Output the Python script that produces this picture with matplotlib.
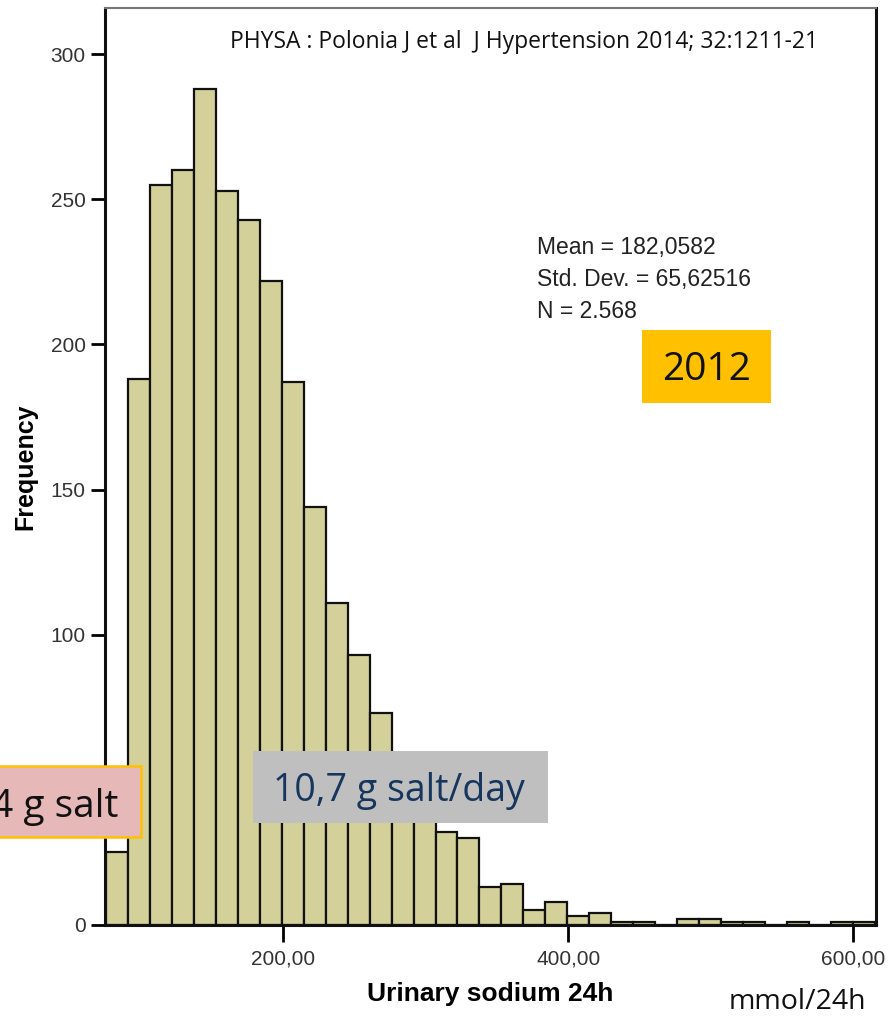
import matplotlib.pyplot as plt
from matplotlib.patches import Rectangle

# Histogram of 24h urinary sodium (mmol/24h)
bin_start = 76.0
bin_width = 15.4
counts = [25, 188, 255, 260, 288, 253, 243, 222, 187, 144, 111, 93, 73, 57, 49,
          32, 30, 13, 14, 5, 8, 3, 4, 1, 1, 0, 2, 2, 1, 1, 0, 1, 0, 1, 1]

x_ticks = [200, 400, 600]
x_tick_labels = ['200,00', '400,00', '600,00']
y_ticks = [0, 50, 100, 150, 200, 250, 300]

stats_lines = ['Mean = 182,0582', 'Std. Dev. = 65,62516', 'N = 2.568']
source_text = 'PHYSA : Polonia J et al  J Hypertension 2014; 32:1211-21'

fig = plt.figure(figsize=(8.89, 10.17), dpi=100)
ax = fig.add_axes([0.1181, 0.0905, 0.8673, 0.9016])

lefts = [bin_start + i * bin_width for i in range(len(counts))]
ax.bar(lefts, counts, width=bin_width, align='edge', color='#d4d09a',
       edgecolor='#111111', linewidth=1.6)

ax.set_xlim(75.3, 615.8)
ax.set_ylim(0, 315.9)
ax.set_xticks(x_ticks)
ax.set_xticklabels(x_tick_labels)
ax.set_yticks(y_ticks)

ax.tick_params(axis='x', length=12, width=2, pad=6, labelsize=15, labelcolor='#333333')
ax.tick_params(axis='y', length=10, width=2, pad=4, labelsize=15, labelcolor='#333333')
for t in ax.get_xticklabels() + ax.get_yticklabels():
    t.set_family('Liberation Sans')

for side in ['left', 'bottom', 'right']:
    ax.spines[side].set_color('#111111')
    ax.spines[side].set_linewidth(2.2)
ax.spines['top'].set_color('#777777')
ax.spines['top'].set_linewidth(1.5)

ax.set_ylabel('Frequency', fontsize=18, fontweight='bold', family='Liberation Sans')
ax.yaxis.set_label_coords(-0.088, 0.50)
ax.set_xlabel('Urinary sodium 24h', fontsize=19, fontweight='bold', family='Liberation Sans')
ax.xaxis.set_label_coords(0.499, -0.062)

# source reference
fig.text(0.2587, 0.9525, source_text, fontsize=16.5, family='Open Sans', color='#111111')

# SPSS statistics
for i, line in enumerate(stats_lines):
    fig.text(0.6037, 0.7502 - i * 0.0314, line, fontsize=16.5,
             family='Liberation Sans', color='#222222')

# annotation boxes
fig.patches.append(Rectangle((-0.01, 0.1767), 0.1686, 0.0704, transform=fig.transFigure,
                             facecolor='#e6b8b7', edgecolor='#ffc000', linewidth=1.8))
fig.text(0.1327, 0.197, '4 g salt', ha='right', fontsize=28, family='Open Sans', color='#111111')

fig.patches.append(Rectangle((0.2842, 0.1911), 0.3319, 0.0705, transform=fig.transFigure,
                             facecolor='#bfbfbf', edgecolor='none'))
fig.text(0.4488, 0.2126, '10,7 g salt/day', ha='center', fontsize=27, family='Open Sans',
         color='#17365d')

fig.patches.append(Rectangle((0.7225, 0.6040), 0.1444, 0.0715, transform=fig.transFigure,
                             facecolor='#ffc000', edgecolor='none'))
fig.text(0.7949, 0.6263, '2012', ha='center', fontsize=28, family='Open Sans', color='#111111')

fig.text(0.8965, 0.008, 'mmol/24h', ha='center', fontsize=20.5, family='Open Sans', color='#111111')

fig.savefig('out.png', dpi=100)
